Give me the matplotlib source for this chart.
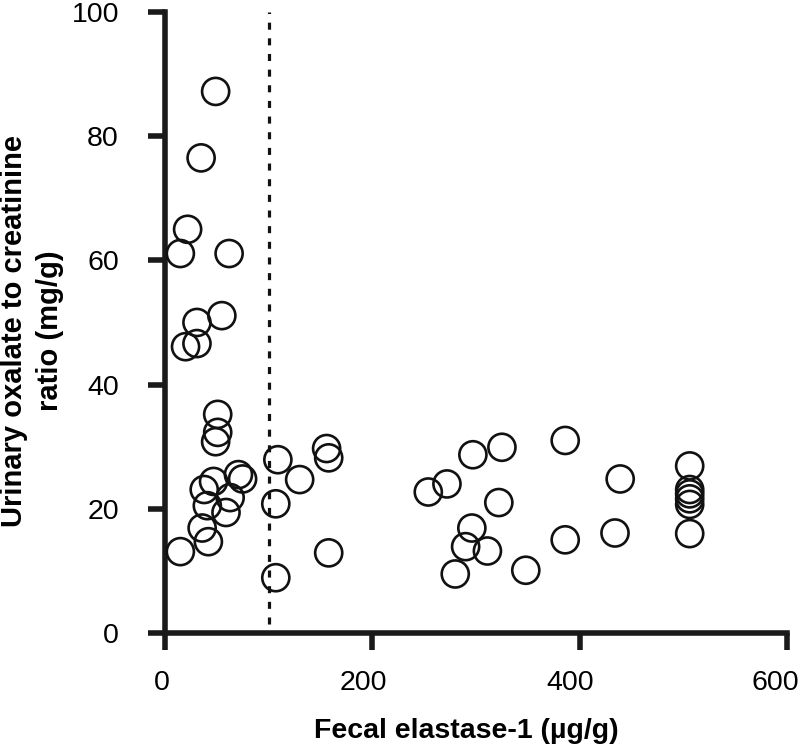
import matplotlib
matplotlib.use("Agg")
import matplotlib.pyplot as plt
from matplotlib.transforms import ScaledTranslation

# fecal elastase-1 (ug/g) vs urinary oxalate/creatinine (mg/g)
elastase = [
    49, 35, 22, 15, 62, 55, 31, 31, 20,
    51, 51, 49, 71, 75, 47, 38, 63, 41, 59, 36, 42, 15,
    109, 130, 107, 107, 156, 158, 158,
    254, 272, 297, 325, 386, 322, 296, 290, 311, 280, 348, 386,
    439, 434, 506, 506, 506, 506, 506, 506,
]
oxalate = [
    87.2, 76.5, 65.0, 61.1, 61.1, 51.1, 50.0, 46.6, 46.1,
    35.2, 32.3, 30.8, 25.5, 24.8, 24.4, 23.1, 21.8, 20.5, 19.4, 16.9, 14.7, 13.1,
    27.9, 24.7, 20.8, 8.9, 29.7, 28.2, 12.9,
    22.7, 24.0, 28.7, 29.9, 31.0, 21.0, 16.9, 13.9, 13.2, 9.5, 10.1, 15.0,
    24.8, 16.1, 26.9, 23.1, 22.4, 21.6, 20.7, 16.0,
]
xticks = [0, 200, 400, 600]
yticks = [0, 20, 40, 60, 80, 100]
CUTOFF = 100  # ug/g, exocrine insufficiency threshold

INK = "#1a1a1a"
plt.rcParams["font.family"] = ["Liberation Sans", "DejaVu Sans"]

fig = plt.figure(figsize=(8.0, 7.46), dpi=100)
ax = fig.add_axes([0.206, 0.1515, 0.778, 0.8325])

ax.scatter(elastase, oxalate, s=380, facecolors="none", edgecolors="#111111",
           linewidths=1.9, zorder=3, clip_on=False)
ax.axvline(CUTOFF, ymin=0.015, ymax=1.0, color="#111111", lw=2.3,
           ls=(0, (2.2, 2.7)), zorder=2)

ax.set_xlim(0, 600)
ax.set_ylim(0, 100)
ax.set_xticks(xticks)
ax.set_yticks(yticks)

for s in ("top", "right"):
    ax.spines[s].set_visible(False)
for s in ("left", "bottom"):
    ax.spines[s].set_linewidth(4.0)
    ax.spines[s].set_color(INK)
    ax.spines[s].set_capstyle("projecting")
ax.tick_params(width=4.0, length=12, color=INK, labelsize=20.5)
ax.tick_params(axis="x", pad=15)
ax.tick_params(axis="y", pad=21)

# the original's x tick labels sit slightly left of their ticks
for lab, dx in zip(ax.get_xticklabels(), [-3, -9, -10, -12]):
    lab.set_transform(lab.get_transform() + ScaledTranslation(dx / 100, 0, fig.dpi_scale_trans))

ax.set_xlabel("Fecal elastase-1 (µg/g)", fontsize=20.5, fontweight="bold")
ax.xaxis.set_label_coords(0.485, -0.137)
ax.set_ylabel("Urinary oxalate to creatinine\nratio (mg/g)", fontsize=21,
              fontweight="bold", linespacing=1.35)
ax.yaxis.set_label_coords(-0.162, 0.486)

fig.savefig("out.png", dpi=100)
